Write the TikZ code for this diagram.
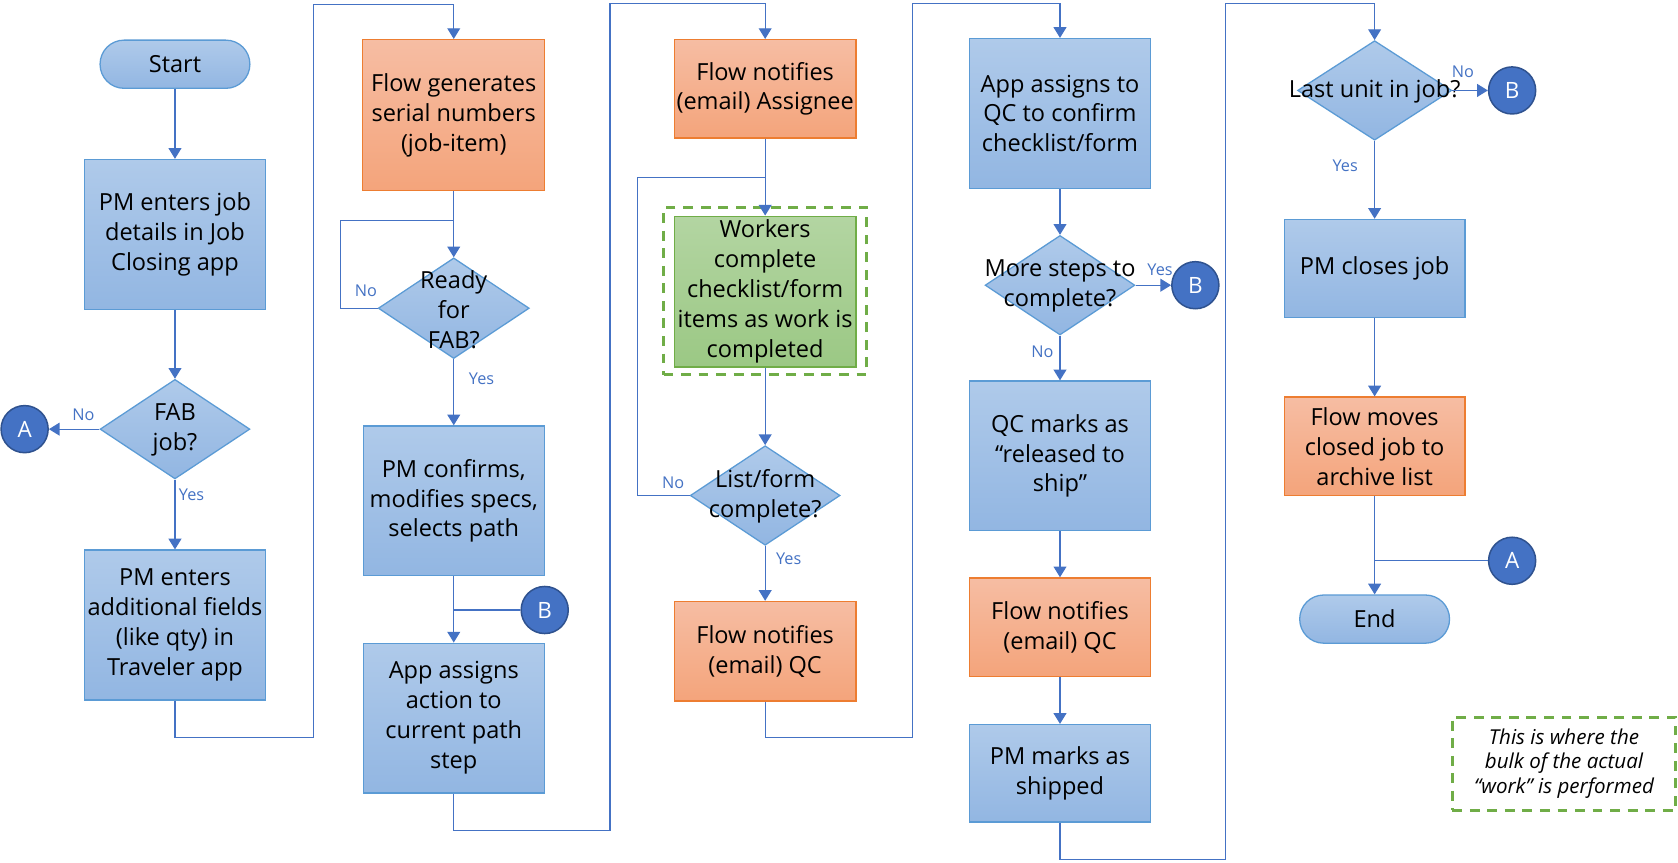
\documentclass[tikz,border=0pt]{standalone}
\usepackage{fontspec}
\setmainfont{Open Sans}
\usetikzlibrary{arrows.meta,shapes.geometric}
\definecolor{blueT}{HTML}{AFCAEA}
\definecolor{blueB}{HTML}{92B6E2}
\definecolor{blueD}{HTML}{5B9BD5}
\definecolor{orT}{HTML}{F6BDA3}
\definecolor{orB}{HTML}{F4A47B}
\definecolor{orD}{HTML}{ED7D31}
\definecolor{grT}{HTML}{B3D5A2}
\definecolor{grB}{HTML}{9BC884}
\definecolor{grD}{HTML}{70AD47}
\definecolor{conn}{HTML}{4472C4}
\definecolor{circD}{HTML}{2F528F}
\begin{document}
\begin{tikzpicture}[x=0.5pt,y=-0.5pt,
  txt/.style={font=\fontsize{11pt}{14pt}\selectfont, align=center, text=black},
  bluebox/.style={txt, rectangle, draw=blueD, line width=0.6pt, top color=blueT, bottom color=blueB, minimum width=84.5pt, minimum height=70pt, inner sep=0pt},
  orbox/.style={txt, rectangle, draw=orD, line width=0.6pt, top color=orT, bottom color=orB, minimum width=85pt, minimum height=46pt, inner sep=0pt},
  grbox/.style={txt, rectangle, draw=grD, line width=0.6pt, top color=grT, bottom color=grB, minimum width=85pt, minimum height=70.5pt, inner sep=0pt},
  term/.style={txt, rectangle, rounded corners=11.2pt, draw=blueD, line width=0.6pt, top color=blueT, bottom color=blueB, minimum width=70pt, minimum height=22.5pt, inner sep=0pt},
  dia/.style={diamond, draw=blueD, line width=0.6pt, top color=blueT, bottom color=blueB, minimum width=70pt, minimum height=46.5pt, inner sep=0pt},
  conncirc/.style={circle, draw=circD, line width=0.7pt, fill=conn, minimum size=22pt, inner sep=0pt, text=white, font=\fontsize{10.5pt}{12pt}\selectfont},
  lab/.style={text=conn, font=\fontsize{7.6pt}{9pt}\selectfont, inner sep=0pt},
  line/.style={draw=conn, line width=0.6pt},
  arr/.style={line, -{Triangle[length=5pt,width=6pt]}},
  workframe/.style={draw=grD, line width=1.4pt, dash pattern=on 4.6pt off 3.6pt, minimum width=95pt, minimum height=78pt, inner sep=0pt},
  note/.style={workframe, minimum width=104.5pt, minimum height=43.5pt, align=center, font=\fontsize{9.6pt}{11.5pt}\selectfont\itshape}
]
\useasboundingbox[fill=white] (0,0) rectangle (1568,805.5);

% column 1
\node[term] (start) at (163.5,60) {Start};
\node[bluebox] (b1) at (163.5,219) {PM enters job\\details in Job\\Closing app};
\node[dia] (d1) at (163.5,401) {};
\node[txt] (d1t) at (163.5,402) {FAB\\job?};
\node[conncirc] (cA1) at (23,401) {A};
\node[bluebox] (b2) at (163.5,584) {PM enters\\additional fields\\(like qty) in\\Traveler app};
\node[lab] (l1) at (78,388) {No};
\node[lab] (l2) at (179,462) {Yes};

% column 2
\node[orbox, minimum height=70.5pt] (flow1) at (424,107.5) {Flow generates\\serial numbers\\(job-item)};
\node[dia, minimum width=70.5pt, minimum height=47pt] (d2) at (424,288) {};
\node[txt] (d2t) at (424,289) {Ready\\for\\FAB?};
\node[bluebox] (b3) at (424,468) {PM confirms,\\modifies specs,\\selects path};
\node[conncirc] (cB1) at (509,570) {B};
\node[bluebox] (b4) at (424,671) {App assigns\\action to\\current path\\step};
\node[lab] (l3) at (342,272) {No};
\node[lab] (l4) at (450,354) {Yes};

% column 3
\node[orbox] (flow2) at (715,83) {Flow notifies\\(email) Assignee};
\node[workframe] (frame) at (715,272) {};
\node[grbox] (green) at (715,272.5) {Workers\\complete\\checklist/form\\items as work is\\completed};
\node[dia] (d3) at (715,463) {};
\node[txt] (d3t) at (715,464) {List/form\\complete?};
\node[orbox, minimum height=46.5pt] (flow3) at (715,608.5) {Flow notifies\\(email) QC};
\node[lab] (l5) at (629,451) {No};
\node[lab] (l6) at (737,522) {Yes};

% column 4
\node[bluebox] (b5) at (990.5,106) {App assigns to\\QC to confirm\\checklist/form};
\node[dia] (d4) at (990.5,266.5) {};
\node[txt] (d4t) at (990.5,267.5) {More steps to\\complete?};
\node[conncirc] (cB2) at (1117,266.5) {B};
\node[bluebox] (b6) at (990.5,426) {QC marks as\\“released to\\ship”};
\node[orbox, minimum width=84.5pt] (flow4) at (990.5,586) {Flow notifies\\(email) QC};
\node[bluebox, minimum height=45.5pt] (b7) at (990.5,722.5) {PM marks as\\shipped};
\node[lab] (l7) at (1084,252) {Yes};
\node[lab] (l8) at (974,329) {No};

% column 5
\node[dia, minimum width=72pt] (d5) at (1284.5,84.5) {};
\node[txt] (d5t) at (1284.5,85.5) {Last unit in job?};
\node[conncirc] (cB3) at (1413,84.5) {B};
\node[bluebox, minimum height=46pt] (b8) at (1284.5,251) {PM closes job};
\node[orbox, minimum width=84.5pt] (flow5) at (1284.5,417) {Flow moves\\closed job to\\archive list};
\node[term] (endn) at (1284.5,578.5) {End};
\node[conncirc] (cA2) at (1413,524) {A};
\node[lab] (l9) at (1367,67) {No};
\node[lab] (l10) at (1257,155) {Yes};

\node[note] (note) at (1461.5,713.5) {This is where the\\bulk of the actual\\“work” is performed};

% coordinates for return paths
\coordinate (r1a) at (163.5,689);
\coordinate (r1b) at (293,689);
\coordinate (r1c) at (293,4);
\coordinate (r1d) at (424,4);
\coordinate (r2a) at (424,776);
\coordinate (r2b) at (570,776);
\coordinate (r2c) at (570,3);
\coordinate (r2d) at (715,3);
\coordinate (r3a) at (715,689);
\coordinate (r3b) at (853,689);
\coordinate (r3c) at (853,3);
\coordinate (r3d) at (990.5,3);
\coordinate (r4a) at (990.5,803);
\coordinate (r4b) at (1145,803);
\coordinate (r4c) at (1145,3);
\coordinate (r4d) at (1284.5,3);
\coordinate (lp1a) at (318,288);
\coordinate (lp1b) at (318,206);
\coordinate (lp1c) at (424,206);
\coordinate (lp2a) at (596,463);
\coordinate (lp2b) at (596,166);
\coordinate (lp2c) at (715,166);
\coordinate (jB1) at (424,570);
\coordinate (jA2) at (1284.5,524);

% connectors column 1
\draw[arr] (start) -- (b1);
\draw[arr] (b1) -- (d1);
\draw[arr] (d1) -- (b2);
\draw[arr] (d1) -- (cA1);
\draw[arr] (b2) -- (r1a) -- (r1b) -- (r1c) -- (r1d) -- (flow1);
% column 2
\draw[arr] (flow1) -- (d2);
\draw[line] (d2.west) -- (lp1a) -- (lp1b) -- (lp1c);
\draw[arr] (d2) -- (b3);
\draw[arr] (b3) -- (b4);
\draw[line] (cB1) -- (jB1);
\draw[arr] (b4) -- (r2a) -- (r2b) -- (r2c) -- (r2d) -- (flow2);
% column 3
\draw[arr] (flow2) -- (green);
\draw[arr] (green) -- (d3);
\draw[line] (d3.west) -- (lp2a) -- (lp2b) -- (lp2c);
\draw[arr] (d3) -- (flow3);
\draw[arr] (flow3) -- (r3a) -- (r3b) -- (r3c) -- (r3d) -- (b5);
% column 4
\draw[arr] (b5) -- (d4);
\draw[arr] (d4) -- (cB2);
\draw[arr] (d4) -- (b6);
\draw[arr] (b6) -- (flow4);
\draw[arr] (flow4) -- (b7);
\draw[arr] (b7) -- (r4a) -- (r4b) -- (r4c) -- (r4d) -- (d5);
% column 5
\draw[arr] (d5) -- (cB3);
\draw[arr] (d5) -- (b8);
\draw[arr] (b8) -- (flow5);
\draw[arr] (flow5) -- (endn);
\draw[line] (cA2) -- (jA2);
\end{tikzpicture}
\end{document}
